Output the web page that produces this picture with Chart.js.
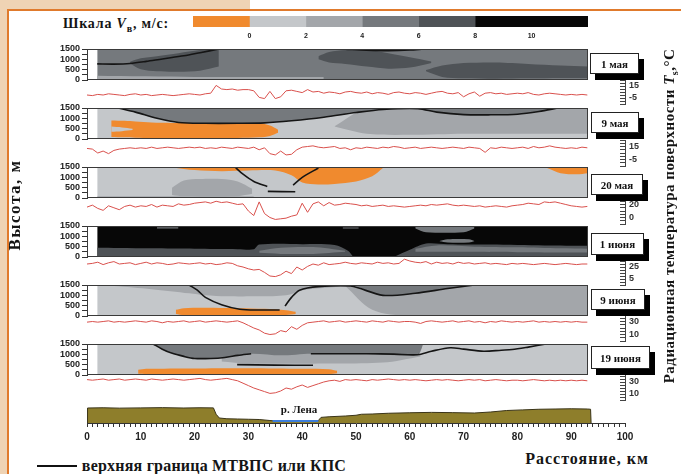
<!DOCTYPE html>
<html>
<head>
<meta charset="utf-8">
<script src="https://cdn.jsdelivr.net/npm/chart.js@4.4.1/dist/chart.umd.min.js"></script>
<style>
  body { margin: 0; background: #fff; }
  #stage { position: relative; width: 681px; height: 474px; overflow: hidden; background: #fff; }
  #stage canvas { position: absolute; }
  .t { position: absolute; white-space: nowrap; font-family: "Liberation Serif", serif; font-weight: bold; color: #151515; transform: translate(-50%, -50%); }
  .box { position: absolute; background: #fff; border: 1px solid #222; box-shadow: 5px 6px 0 #000; font-family: "Liberation Serif", serif; font-weight: bold; font-size: 11px; color: #111; display: flex; align-items: center; justify-content: center; }
</style>
</head>
<body>
<div id="stage">
  <div style="position:absolute;left:0;top:0;width:250px;height:10px;background:#EFD3B4"></div>
  <div style="position:absolute;left:0;top:0;width:7px;height:474px;background:#EFD3B4"></div>
  <div style="position:absolute;left:7px;top:9px;width:674px;height:2px;background:#E07A2C"></div>
  <div style="position:absolute;left:7px;top:9px;width:2px;height:465px;background:#E07A2C"></div>
</div>
<script>
// ---- data ----
const classColors = ['#F08A2E', '#C4C7CA', '#A3A6AA', '#75797D', '#4F5357', '#070707'];
const scaleEdges = [-2, 0, 2, 4, 6, 8, 12];
const scaleTicks = [0, 2, 4, 6, 8, 10];
const days = ['1 мая', '9 мая', '20 мая', '1 июня', '9 июня', '19 июня'];
const heightTicks = [0, 500, 1000, 1500];
const distTicks = [0, 10, 20, 30, 40, 50, 60, 70, 80, 90, 100];

// contour blobs: class, km, lower and upper height (m)
const may1Blobs = [
  {c: 3, x: [1.9, 93.1], lo: [0, 0], hi: [1500, 1500]},
  {c: 2, x: [1.9, 20, 44], lo: [0, 0, 0], hi: [200, 150, 150]},
  {c: 4, x: [8, 10, 13, 17, 21, 24.5], lo: [800, 520, 420, 400, 450, 650], hi: [880, 1050, 1150, 1300, 1450, 1500]},
  {c: 4, x: [43, 45, 48, 52, 56, 60, 64], lo: [1000, 850, 780, 650, 550, 600, 820], hi: [1150, 1350, 1450, 1450, 1300, 1100, 900]},
  {c: 4, x: [63, 66, 70, 76, 82, 88, 93.1], lo: [420, 150, 80, 60, 80, 100, 100], hi: [480, 700, 820, 850, 780, 700, 650]}
];
const may1Lines = [
  {x: [1.9, 5, 8, 11, 14, 18, 21, 24.5], y: [780, 770, 800, 900, 1020, 1170, 1320, 1500]},
  {x: [48, 52, 56, 60, 62.5], y: [1490, 1440, 1420, 1450, 1500]}
];

const may9LineX = [5.8, 9, 13, 17, 22, 28, 33, 38, 44, 50, 55, 61.5, 65, 70, 75, 80, 84, 87.5];
const may9LineY = [1500, 1300, 1000, 800, 760, 760, 780, 880, 1050, 1280, 1430, 1470, 1300, 1180, 1170, 1200, 1330, 1500];
const may9Blobs = [
  {c: 1, x: [1.9, 93.1], lo: [0, 0], hi: [1500, 1500]},
  {c: 2, x: [46, 52, 60, 70, 80, 93.1], lo: [600, 250, 200, 250, 250, 250], hi: [620, 1500, 1500, 1500, 1500, 1500]},
  {c: 3, x: may9LineX, lo: may9LineY, hi: may9LineY.map(() => 1500)},
  {c: 0, x: [4.5, 7, 9, 12, 20, 28, 32, 34, 35.5], lo: [100, 80, 60, 50, 50, 50, 80, 150, 300], hi: [900, 880, 850, 800, 770, 770, 760, 650, 450]},
  {c: 1, x: [4.5, 6.5, 8.5], lo: [350, 380, 430], hi: [600, 560, 500]}
];
const may9Lines = [{x: may9LineX, y: may9LineY}];

const may20Blobs = [
  {c: 1, x: [1.9, 93.1], lo: [0, 0], hi: [1500, 1500]},
  {c: 2, x: [1.9, 31], lo: [0, 0], hi: [80, 80]},
  {c: 2, x: [15.8, 18, 21, 25, 28, 30.7], lo: [150, 80, 60, 60, 80, 200], hi: [500, 850, 920, 920, 800, 450]},
  {c: 0, x: [16, 20, 25, 30, 35, 38, 40, 43, 46, 50, 53, 55], lo: [1480, 1350, 1300, 1330, 1330, 1100, 750, 650, 680, 800, 1050, 1450], hi: [1500, 1500, 1500, 1500, 1500, 1500, 1500, 1500, 1500, 1500, 1500, 1500]},
  {c: 0, x: [85.5, 88, 91, 93.1], lo: [1450, 1200, 1150, 1200], hi: [1500, 1500, 1500, 1500]}
];
const may20Lines = [
  {x: [27.5, 29, 31, 33.5], y: [1500, 1150, 800, 560]},
  {x: [33.6, 38.7], y: [320, 300]},
  {x: [38.3, 40, 43], y: [620, 1000, 1450]}
];

const jun1Blobs = [
  {c: 5, x: [1.9, 93.1], lo: [0, 0], hi: [1500, 1500]},
  {c: 4, x: [1.9, 6, 12, 20, 28, 31, 32, 40, 46, 48.5, 49.5], lo: [0, 0, 0, 0, 0, 0, 0, 0, 0, 0, 0], hi: [450, 440, 420, 400, 380, 370, 600, 620, 580, 300, 0]},
  {c: 3, x: [32, 36, 42, 48], lo: [200, 150, 150, 250], hi: [300, 450, 480, 300]},
  {c: 4, x: [57, 60, 63, 67, 75, 85, 93.1], lo: [0, 0, 0, 0, 0, 0, 0], hi: [0, 350, 650, 620, 600, 560, 550]},
  {c: 3, x: [61, 65, 72, 80, 88, 93.1], lo: [250, 250, 250, 230, 220, 220], hi: [400, 560, 500, 470, 420, 400]},
  {c: 3, x: [61, 63, 70, 72], lo: [1380, 1200, 1200, 1380], hi: [1500, 1500, 1500, 1500]},
  {c: 3, x: [65.5, 67, 71, 72], lo: [760, 700, 700, 760], hi: [780, 860, 860, 780]},
  {c: 3, x: [13, 17], lo: [1380, 1380], hi: [1440, 1440]},
  {c: 3, x: [47.5, 50.5], lo: [1380, 1380], hi: [1430, 1430]}
];
const jun1Lines = [];

const jun9Blobs = [
  {c: 1, x: [1.9, 93.1], lo: [0, 0], hi: [1500, 1500]},
  {c: 2, x: [48, 53, 60, 93.1], lo: [1450, 300, 0, 0], hi: [1500, 1500, 1500, 1500]},
  {c: 2, x: [5, 12, 19, 22, 26, 32, 37, 40, 45, 50], lo: [1450, 1300, 1100, 1000, 950, 950, 1000, 1250, 1380, 1450], hi: [1500, 1500, 1500, 1500, 1500, 1500, 1500, 1500, 1500, 1500]},
  {c: 3, x: [50, 55, 61, 67, 72], lo: [1450, 1000, 1100, 1330, 1500], hi: [1500, 1500, 1500, 1500, 1500]},
  {c: 0, x: [16.5, 18, 22, 28, 33, 37, 38.8], lo: [100, 40, 30, 30, 30, 50, 100], hi: [300, 380, 400, 380, 350, 280, 200]}
];
const jun9Lines = [
  {x: [19, 20.5, 22, 25, 28.4, 32, 35.8], y: [1500, 1250, 900, 550, 330, 290, 290]},
  {x: [36.8, 38, 39.5, 43, 49, 55, 61, 67, 72], y: [480, 900, 1250, 1420, 1450, 1000, 1100, 1330, 1500]}
];

const jun19Blobs = [
  {c: 1, x: [1.9, 93.1], lo: [0, 0], hi: [1500, 1500]},
  {c: 2, x: [25, 30, 42, 55, 62], lo: [650, 550, 550, 600, 900], hi: [1000, 1100, 1100, 1050, 1000]},
  {c: 3, x: [12.3, 15.7, 20, 25.6, 30.5, 36, 41.6, 52, 61.4, 62.5], lo: [1500, 1060, 800, 850, 1030, 950, 1030, 1030, 980, 1500], hi: [1500, 1500, 1500, 1500, 1500, 1500, 1500, 1500, 1500, 1500]},
  {c: 0, x: [9.5, 11, 20, 30, 40, 45, 46.5], lo: [60, 40, 30, 30, 30, 40, 80], hi: [250, 300, 320, 330, 300, 280, 200]}
];
const jun19Lines = [
  {x: [12.3, 14, 15.7, 18, 20, 23, 25.6, 28, 30.5], y: [1500, 1250, 1060, 900, 800, 800, 850, 950, 1030]},
  {x: [41.6, 47, 52, 57, 61.4, 64, 67.5, 70, 73.7, 77, 79, 82, 85.3], y: [1030, 1030, 1030, 1010, 980, 1150, 1320, 1250, 1150, 1200, 1230, 1350, 1500]},
  {x: [27.9, 35, 42], y: [500, 480, 470]}
];

// surface temperature along the track, one value per km (0..93)
const kmGrid = Array.from({length: 94}, (_, i) => i);
const temp1 = [0,-1,1,0,2,1,0,-1,1,2, 0,1,-1,0,1,0,-1,0,1,2, 1,0,2,3,16,10,9,10,8,9, 9,7,-4,-6,6,-6,-3,7,8,6,
  4,9,5,6,3,5,4,2,5,6, 4,3,5,2,4,3,1,4,5,3, 2,4,3,1,3,5,6,3,2,4, -3,2,5,-2,3,4,2,3,1,2, 3,2,4,1,0,2,3,2,1,0, 1,0,1,0];
const temp2 = [12,11,5,8,4,9,11,12,13,12, 13,12,14,12,13,14,13,12,13,14, 13,14,12,13,12,14,13,12,14,13, 12,14,10,13,4,2,8,2,3,10,
  14,15,16,14,13,14,15,12,13,10, 13,12,14,13,12,14,13,15,14,12, 13,14,12,13,14,13,12,13,14,13, 12,14,13,12,6,13,12,14,13,12, 13,14,12,15,13,14,16,14,13,12, 13,12,14,13];
const temp3 = [16,19,14,11,18,15,12,17,19,16, 18,17,20,16,19,18,17,21,19,20, 22,23,24,22,25,23,24,22,20,21, 10,3,24,6,0,-3,-2,-1,2,4,
  22,8,21,24,18,23,19,20,22,21, 20,18,19,17,18,19,17,18,17,16, 17,18,19,18,20,19,20,21,19,18, 19,18,17,18,16,17,18,17,16,18, 19,20,22,21,20,24,23,24,22,20, 18,17,16,17];
const temp4 = [30,31,33,29,32,34,30,31,32,29, 31,33,30,32,31,29,30,32,31,30, 31,32,30,31,29,30,32,31,27,25, 22,20,21,16,10,9,12,18,14,25,
  20,26,30,28,32,29,30,31,33,31, 30,32,31,30,33,31,32,30,31,38, 35,33,32,34,30,33,31,32,30,33, 31,32,30,31,32,30,31,30,29,31, 30,31,30,29,30,31,30,29,30,31, 30,29,30,30];
const temp5 = [29,30,29,30,31,29,30,29,30,31, 30,29,31,30,28,30,29,30,31,29, 30,31,29,30,31,30,29,30,31,28, 24,20,17,12,10,11,16,14,22,18,
  24,28,29,30,31,29,30,31,29,30, 31,30,29,31,30,29,31,30,29,30, 30,29,27,30,31,30,29,30,31,29, 30,31,29,30,28,30,29,31,30,29, 30,29,30,31,29,30,29,30,29,30, 29,30,29,29];
const temp6 = [34,33,34,35,33,34,35,33,34,35, 34,33,35,34,33,34,35,34,33,34, 35,36,34,33,34,35,36,34,32,28, 24,20,17,14,11,12,15,20,18,22,
  25,21,24,27,30,32,33,31,34,33, 34,33,32,34,33,34,35,34,33,34, 33,34,33,32,33,34,33,34,33,32, 33,34,33,34,32,33,34,33,32,33, 33,32,33,34,33,32,33,32,33,32, 33,32,33,32];
const tempRanges = [[-15, 25], [-15, 25], [-10, 30], [-5, 40], [0, 40], [0, 45]];
const tempLabels = [[15, -5], [15, -5], [20, 0], [25, 5], [30, 10], [30, 10]];

// relief profile along the track
const terrainKm = [0, 0.1, 3, 6, 10, 14, 18, 21, 23.5, 24, 24.6, 26, 28, 30, 32, 34, 35, 38, 41, 43, 43.5, 45, 48, 50, 51, 53, 56, 60, 64, 68, 72, 75, 78, 81, 84, 87, 90, 93, 93.6, 93.7];
const terrainH = [80, 200, 202, 199, 201, 203, 200, 202, 201, 150, 120, 114, 112, 110, 108, 100, 96, 96, 96, 100, 125, 130, 136, 142, 150, 152, 158, 162, 165, 163, 160, 168, 180, 185, 190, 192, 194, 192, 190, 80];
const riverKm = [34.5, 43];
const riverH = [97, 97];

// ---- layout ----
Chart.defaults.font.family = 'Liberation Sans';
Chart.defaults.animation = false;
const stage = document.getElementById('stage');
const panelTops = [49, 108, 167, 226, 285, 344];
const panelH = 31;
const stripAreas = [[80, 104], [140, 166], [198, 224], [258, 285], [315, 341], [373, 400]];
const boxes = [[590, 53, 47, 19], [591, 112, 46, 19], [591, 174, 50, 19], [591, 233, 51, 20], [591, 289, 52, 19], [591, 346, 57, 21]];

function makeCanvas(left, top, w, h) {
  const c = document.createElement('canvas');
  c.width = w; c.height = h;
  c.style.left = left + 'px'; c.style.top = top + 'px';
  stage.appendChild(c);
  return c;
}
function addText(html, x, y, size, extra, spacing) {
  const d = document.createElement('div');
  d.className = 't';
  d.innerHTML = html;
  d.style.left = x + 'px'; d.style.top = y + 'px';
  d.style.fontSize = size + 'px';
  if (spacing) d.style.letterSpacing = spacing + 'px';
  if (extra) d.style.transform = 'translate(-50%, -50%) ' + extra;
  stage.appendChild(d);
}
const pts = (xs, ys) => xs.map((x, k) => ({x, y: ys[k]}));
const boldTick = (size) => ({size, weight: 'bold'});
const noPlugins = {legend: {display: false}, tooltip: {enabled: false}};

const framePlugin = {
  id: 'frame',
  afterDatasetsDraw(chart) {
    const {ctx, chartArea: a} = chart;
    ctx.save();
    ctx.strokeStyle = '#3a3a3a';
    ctx.lineWidth = 1;
    ctx.strokeRect(a.left + 0.5, a.top + 0.5, a.right - a.left - 1, a.bottom - a.top - 1);
    ctx.restore();
  }
};

function contourChart(top, blobs, lines) {
  const pad = 9;
  const canvas = makeCanvas(40, top - pad, 548, panelH + 2 * pad);
  const datasets = [];
  blobs.forEach((b, i) => {
    const order = 100 - i; // first blob painted first
    datasets.push({data: pts(b.x, b.lo), borderColor: 'transparent', borderWidth: 0, pointRadius: 0, fill: false, tension: 0.3, order});
    datasets.push({data: pts(b.x, b.hi), borderColor: 'transparent', borderWidth: 0, pointRadius: 0, fill: '-1', backgroundColor: classColors[b.c], tension: 0.3, order});
  });
  lines.forEach(l => {
    datasets.push({data: pts(l.x, l.y), borderColor: '#151515', borderWidth: 1.6, pointRadius: 0, fill: false, tension: 0.3, order: 0});
  });
  return new Chart(canvas, {
    type: 'line',
    data: {datasets},
    options: {
      responsive: false,
      events: [],
      layout: {padding: {top: pad, bottom: pad}},
      plugins: noPlugins,
      scales: {
        x: {type: 'linear', min: 0, max: 93.1, display: false},
        y: {
          min: 0, max: 1500, position: 'left',
          afterFit: s => { s.width = 47; },
          ticks: {stepSize: 250, autoSkip: false, padding: 2, color: '#222', font: boldTick(9),
            callback: v => heightTicks.includes(v) ? v : ''},
          grid: {drawOnChartArea: false, tickLength: 5, color: '#333'},
          border: {color: '#333'}
        }
      }
    },
    plugins: [framePlugin]
  });
}

function tempChart(area, range, labels, values) {
  const pad = 16;
  const canvas = makeCanvas(40, area[0] - pad, 620, area[1] - area[0] + 2 * pad);
  return new Chart(canvas, {
    type: 'line',
    data: {datasets: [{data: pts(kmGrid, values), borderColor: '#D9504C', borderWidth: 1, pointRadius: 0, fill: false, tension: 0}]},
    options: {
      responsive: false,
      events: [],
      layout: {padding: {left: 47, top: pad, bottom: pad}},
      plugins: noPlugins,
      scales: {
        x: {type: 'linear', min: 0, max: 100, display: false},
        y: {
          min: range[0], max: range[1], position: 'right',
          afterFit: s => { s.width = 35; },
          ticks: {stepSize: 5, autoSkip: false, padding: 9, color: '#333', font: boldTick(9),
            callback: v => labels.includes(v) ? v : ''},
          grid: {drawOnChartArea: false, tickLength: -5, color: '#444'},
          border: {color: '#444'}
        }
      }
    }
  });
}

// colour scale
(function () {
  const canvas = makeCanvas(185, 10, 410, 35);
  new Chart(canvas, {
    type: 'bar',
    data: {
      labels: [''],
      datasets: classColors.map((c, i) => ({
        data: [[scaleEdges[i], scaleEdges[i + 1]]], backgroundColor: c,
        barPercentage: 1, categoryPercentage: 1, borderWidth: 0, grouped: false
      }))
    },
    options: {
      indexAxis: 'y',
      responsive: false,
      events: [],
      layout: {padding: {left: 8, right: 7, top: 6}},
      plugins: noPlugins,
      scales: {
        x: {
          type: 'linear', min: -2, max: 12, position: 'bottom',
          afterFit: s => { s.height = 18; },
          grid: {display: false, drawTicks: false}, border: {display: false},
          ticks: {stepSize: 2, autoSkip: false, padding: 5, color: '#222', font: boldTick(7),
            callback: v => scaleTicks.includes(v) ? v : ''}
        },
        y: {display: false}
      }
    }
  });
})();

const allBlobs = [may1Blobs, may9Blobs, may20Blobs, jun1Blobs, jun9Blobs, jun19Blobs];
const allLines = [may1Lines, may9Lines, may20Lines, jun1Lines, jun9Lines, jun19Lines];
const allTemps = [temp1, temp2, temp3, temp4, temp5, temp6];
allBlobs.forEach((b, i) => contourChart(panelTops[i], b, allLines[i]));
allTemps.forEach((t, i) => tempChart(stripAreas[i], tempRanges[i], tempLabels[i], t));

// relief and distance axis
(function () {
  const canvas = makeCanvas(40, 396, 620, 50);
  new Chart(canvas, {
    type: 'line',
    data: {
      datasets: [
        {data: pts(riverKm, riverH), borderColor: '#3C7DD9', borderWidth: 2, pointRadius: 0, fill: false},
        {data: pts(terrainKm, terrainH), borderColor: '#3A3418', borderWidth: 1, pointRadius: 0, fill: 'start', backgroundColor: '#8E7E2B', tension: 0}
      ]
    },
    options: {
      responsive: false,
      events: [],
      layout: {padding: {left: 47, right: 35, top: 7}},
      plugins: noPlugins,
      scales: {
        x: {
          type: 'linear', min: 0, max: 100, position: 'bottom',
          afterFit: s => { s.height = 23; },
          ticks: {stepSize: 1, autoSkip: false, maxRotation: 0, padding: 4, color: '#222', font: boldTick(10),
            callback: v => distTicks.includes(v) ? v : ''},
          grid: {drawOnChartArea: false, tickLength: 4, color: '#333'},
          border: {color: '#333'}
        },
        y: {min: 80, max: 240, display: false}
      }
    }
  });
})();

// texts
boxes.forEach((b, i) => {
  const d = document.createElement('div');
  d.className = 'box';
  d.textContent = days[i];
  d.style.left = b[0] + 'px'; d.style.top = b[1] + 'px';
  d.style.width = b[2] + 'px'; d.style.height = b[3] + 'px';
  stage.appendChild(d);
});
addText('Шкала <i>V</i><sub style="font-size:10px">в</sub>, м/с:', 116, 25, 14, null, 0.8);
addText('Высота, м', 15, 205, 17, 'rotate(-90deg)', 1.5);
addText('Радиационная температура поверхности <i>T</i><sub style="font-size:10px">s</sub>,°С', 670, 216, 15, 'rotate(-90deg)', 0.5);
addText('р. Лена', 299, 409, 11);
addText('Расстояние, км', 587, 459, 16, null, 1);
addText('верхняя граница МТВПС или КПС', 214, 466, 16, null, 0.2);
const leg = document.createElement('div');
leg.style.cssText = 'position:absolute;left:37px;top:465px;width:40px;height:2px;background:#111';
stage.appendChild(leg);
</script>
</body>
</html>
